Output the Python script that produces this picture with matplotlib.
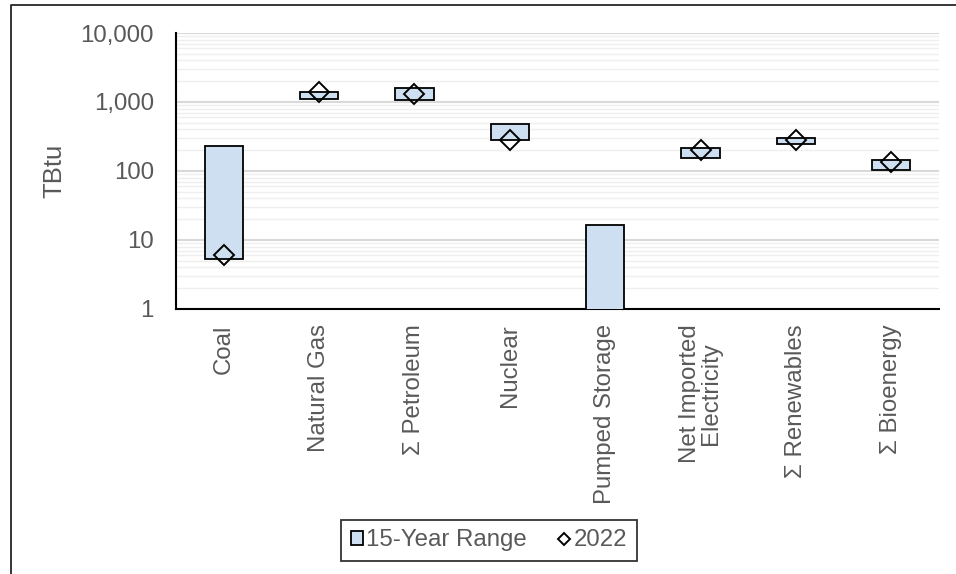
import numpy as np
import matplotlib
matplotlib.use('Agg')
import matplotlib.pyplot as plt
from matplotlib.ticker import FuncFormatter, LogLocator
from matplotlib.lines import Line2D

plt.rcParams['font.family'] = ['Liberation Sans', 'DejaVu Sans']

# Energy consumption by source: 15-year min/max range and 2022 value (TBtu)
categories = ['Coal', 'Natural Gas', 'Σ Petroleum', 'Nuclear', 'Pumped Storage',
              'Net Imported\nElectricity', 'Σ Renewables', 'Σ Bioenergy']
range_low = [5.3, 1115, 1060, 279, 0, 153, 244, 103]
range_high = [233, 1395, 1580, 480, 16.3, 218, 304, 144]
val_2022 = [6.0, 1385, 1290, 281, np.nan, 202, 281, 135]

text_color = '#595959'
bar_color = '#cddff0'

fig = plt.figure(figsize=(9.56, 5.74), dpi=100)
ax = fig.add_axes([0.1841, 0.4617, 0.7981, 0.4808])

x = np.arange(len(categories))
low = np.array(range_low, dtype=float)
high = np.array(range_high, dtype=float)
# zero lower bounds sit below the log axis floor
bottom = np.where(low > 0, low, 1e-3)

bars = ax.bar(x, high - bottom, bottom=bottom, width=0.4, color=bar_color,
              edgecolor='black', linewidth=1.3, label='15-Year Range', zorder=3)
pts, = ax.plot(x, val_2022, linestyle='none', marker='D', markersize=10,
               markerfacecolor='none', markeredgecolor='black',
               markeredgewidth=1.4, label='2022', zorder=4)

ax.set_yscale('log')
ax.set_ylim(1, 10000)
ax.set_xlim(-0.5, len(categories) - 0.5)
ax.yaxis.set_major_locator(LogLocator(base=10, numticks=10))
ax.yaxis.set_minor_locator(LogLocator(base=10, subs=np.arange(2, 10), numticks=10))
ax.yaxis.set_major_formatter(FuncFormatter(lambda v, p: f'{v:,.0f}'))
ax.yaxis.set_minor_formatter(FuncFormatter(lambda v, p: ''))

ax.grid(True, which='major', axis='y', color='#d9d9d9', linewidth=1.5, zorder=0)
ax.grid(True, which='minor', axis='y', color='#efefef', linewidth=1.0, zorder=0)
ax.set_axisbelow(True)

for s in ['top', 'right']:
    ax.spines[s].set_visible(False)
for s in ['left', 'bottom']:
    ax.spines[s].set_color('black')
    ax.spines[s].set_linewidth(1.5)

ax.set_xticks(x)
ax.set_xticklabels(categories, rotation=90, va='top', ha='center',
                   linespacing=0.95)
ax.tick_params(axis='x', length=0, pad=11, labelsize=17.3, labelcolor=text_color)
ax.tick_params(axis='y', which='both', length=0, pad=16, labelsize=17.3,
               labelcolor=text_color)
ax.set_ylabel('TBtu', fontsize=18.5, color=text_color, labelpad=10)

leg = fig.legend(handles=[bars, pts], loc='center', ncol=2,
                 bbox_to_anchor=(0.5115, 0.0584), fontsize=17.3,
                 frameon=True, fancybox=False, edgecolor='black',
                 handlelength=0.5, handleheight=0.5, handletextpad=0.15,
                 columnspacing=1.3, borderpad=0.4, markerscale=0.6)
leg.get_frame().set_linewidth(1.3)
for t in leg.get_texts():
    t.set_color(text_color)

# outer frame around the chart area
fig.add_artist(Line2D([10.5 / 956, 10.5 / 956, 1.0], [0.0, 1 - 5 / 574, 1 - 5 / 574],
                      transform=fig.transFigure, color='#262626', linewidth=1.3))

plt.savefig('out.png', dpi=100)
